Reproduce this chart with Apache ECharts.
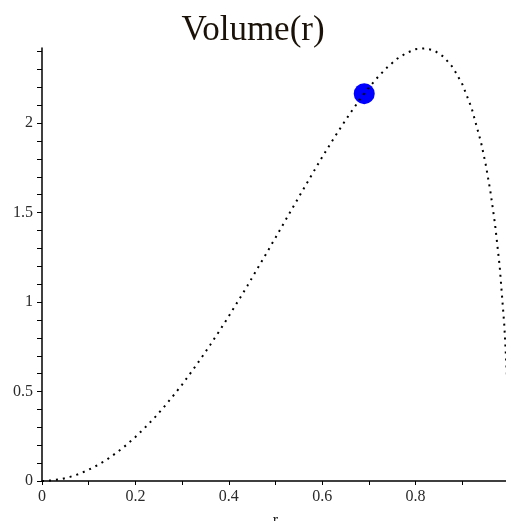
<!DOCTYPE html>
<html>
<head>
<meta charset="utf-8">
<script src="https://cdn.jsdelivr.net/npm/echarts@6/dist/echarts.min.js"></script>
<style>
  html, body { margin: 0; padding: 0; background: #fff; }
  #main { width: 506px; height: 521px; }
</style>
</head>
<body>
<div id="main"></div>
<script>
// r values
var rValues = [0, 0.02, 0.04, 0.06, 0.08, 0.10, 0.12, 0.14, 0.16, 0.18,
  0.20, 0.22, 0.24, 0.26, 0.28, 0.30, 0.32, 0.34, 0.36, 0.38,
  0.40, 0.42, 0.44, 0.46, 0.48, 0.50, 0.52, 0.54, 0.56, 0.58,
  0.60, 0.62, 0.64, 0.66, 0.68, 0.70, 0.72, 0.74, 0.76, 0.78,
  0.80, 0.82, 0.84, 0.86, 0.88, 0.90, 0.92, 0.94, 0.95, 0.96,
  0.97, 0.98, 0.99, 0.995, 0.996];
// Volume(r)
var volValues = [0, 0.003, 0.01, 0.023, 0.04, 0.063, 0.09, 0.122, 0.159, 0.2,
  0.246, 0.297, 0.351, 0.41, 0.473, 0.539, 0.61, 0.683, 0.76, 0.839,
  0.921, 1.006, 1.092, 1.181, 1.27, 1.36, 1.451, 1.542, 1.632, 1.722,
  1.81, 1.895, 1.977, 2.056, 2.13, 2.199, 2.26, 2.314, 2.359, 2.392,
  2.413, 2.418, 2.406, 2.371, 2.311, 2.218, 2.084, 1.894, 1.771, 1.621,
  1.437, 1.201, 0.869, 0.621, 0.557];
// highlighted point
var markPoint = [0.69, 2.165];

var yMax = 2.42;
var serif = 'Liberation Serif';

var chart = echarts.init(document.getElementById('main'));

var curve = [];
for (var i = 0; i < rValues.length; i++) {
  curve.push([rValues[i], volValues[i]]);
}

var option = {
  animation: false,
  backgroundColor: '#fff',
  title: {
    text: 'Volume(r)',
    left: 'center',
    top: 8,
    textStyle: { fontFamily: serif, fontSize: 35, fontWeight: 'normal', color: '#1a1208' }
  },
  grid: { left: 42, right: -3, top: 48, bottom: 40, outerBoundsMode: 'none', containLabel: false },
  xAxis: {
    type: 'value',
    min: 0,
    max: 1,
    interval: 0.1,
    name: 'r',
    nameLocation: 'middle',
    nameGap: 32,
    nameMoveOverlap: false,
    nameTextStyle: { fontFamily: serif, fontSize: 16, color: '#222', verticalAlign: 'top' },
    splitLine: { show: false },
    axisLine: { lineStyle: { color: '#000', width: 1.5 } },
    axisTick: { length: 4, lineStyle: { color: '#000' } },
    axisLabel: {
      margin: 8,
      fontFamily: serif,
      fontSize: 16,
      color: '#2a2a2a',
      formatter: function (v) {
        var k = Math.round(v * 10);
        return k % 2 === 0 ? String(k / 10) : '';
      }
    }
  },
  yAxis: {
    type: 'value',
    min: 0,
    max: yMax,
    interval: 0.1,
    splitLine: { show: false },
    axisLine: { lineStyle: { color: '#000', width: 1.5 } },
    axisTick: { length: 5, lineStyle: { color: '#000' } },
    axisLabel: {
      margin: 9,
      fontFamily: serif,
      fontSize: 16,
      color: '#2a2a2a',
      showMaxLabel: false,
      formatter: function (v) {
        var k = Math.round(v * 10);
        if (Math.abs(v * 10 - k) > 1e-6) return '';
        return k % 5 === 0 ? String(k / 10) : '';
      }
    }
  },
  series: [
    {
      type: 'line',
      data: curve,
      showSymbol: false,
      silent: true,
      lineStyle: { color: '#000', width: 2, type: [2, 5] }
    },
    {
      type: 'scatter',
      data: [markPoint],
      symbolSize: 21,
      itemStyle: { color: '#0000ff', opacity: 1 }
    }
  ]
};

chart.setOption(option, true);
</script>
</body>
</html>
